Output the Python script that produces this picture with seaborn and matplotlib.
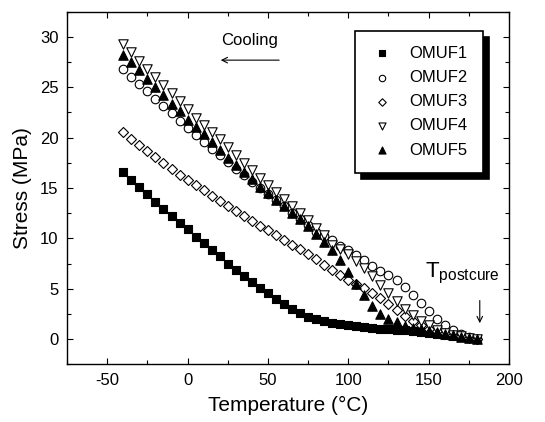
import numpy as np
import pandas as pd
import matplotlib
matplotlib.use('Agg')
import matplotlib.pyplot as plt
from matplotlib.ticker import MultipleLocator
import seaborn as sns

# Temperaturas de enfriamiento (°C)
temperatura = list(range(-40, 185, 5))

omuf1 = [16.6, 15.8, 15.1, 14.4, 13.6, 12.9, 12.2, 11.5, 10.9, 10.1,
         9.5, 8.8, 8.2, 7.5, 6.9, 6.3, 5.7, 5.1, 4.6, 4.0,
         3.5, 3.0, 2.6, 2.2, 1.95, 1.8, 1.6, 1.5, 1.4, 1.3,
         1.2, 1.1, 1.0, 1.0, 0.9, 0.85, 0.75, 0.7, 0.6, 0.5,
         0.4, 0.3, 0.2, 0.1, 0.0]
omuf2 = [26.8, 26.0, 25.3, 24.6, 23.8, 23.1, 22.4, 21.7, 21.0, 20.3,
         19.6, 18.9, 18.3, 17.6, 16.9, 16.3, 15.6, 15.0, 14.4, 13.8,
         13.2, 12.5, 11.9, 11.3, 10.6, 10.2, 9.8, 9.2, 8.8, 8.3,
         7.8, 7.3, 6.8, 6.4, 5.9, 5.2, 4.4, 3.6, 2.8, 2.0,
         1.4, 0.9, 0.5, 0.2, 0.0]
omuf3 = [20.6, 19.9, 19.3, 18.7, 18.1, 17.5, 16.9, 16.3, 15.8, 15.3,
         14.8, 14.2, 13.7, 13.2, 12.7, 12.2, 11.7, 11.2, 10.8, 10.3,
         9.8, 9.3, 8.9, 8.4, 7.9, 7.4, 6.9, 6.4, 5.9, 5.5,
         5.1, 4.6, 4.1, 3.5, 2.9, 2.3, 1.8, 1.4, 1.0, 0.75,
         0.55, 0.4, 0.25, 0.1, 0.0]
omuf4 = [29.3, 28.5, 27.6, 26.8, 26.0, 25.2, 24.4, 23.6, 22.8, 22.0,
         21.3, 20.6, 19.9, 19.1, 18.3, 17.5, 16.8, 16.0, 15.3, 14.6,
         13.9, 13.2, 12.5, 11.8, 11.0, 10.3, 9.3, 8.9, 8.4, 7.7,
         7.1, 6.3, 5.4, 4.6, 3.8, 3.0, 2.4, 1.8, 1.4, 0.9,
         0.6, 0.4, 0.25, 0.1, 0.0]
omuf5 = [28.2, 27.5, 26.7, 25.8, 25.0, 24.2, 23.3, 22.6, 21.8, 21.1,
         20.4, 19.6, 18.8, 18.0, 17.3, 16.6, 15.9, 15.1, 14.5, 13.8,
         13.2, 12.5, 11.9, 11.2, 10.4, 9.6, 8.8, 7.8, 6.7, 5.5,
         4.4, 3.3, 2.5, 2.0, 1.7, 1.3, 1.1, 0.95, 0.8, 0.65,
         0.5, 0.35, 0.2, 0.1, 0.0]

muestras = ['OMUF1', 'OMUF2', 'OMUF3', 'OMUF4', 'OMUF5']
series = [omuf1, omuf2, omuf3, omuf4, omuf5]

# Estilo de cada muestra: marcador, relleno, tamaño
marcadores = ['s', 'o', 'D', 'v', '^']
rellenos = ['black', 'white', 'white', 'white', 'black']
tamanos = [36, 38, 26, 46, 46]

sns.set_style('ticks')
plt.rcParams['font.family'] = ['Liberation Sans', 'DejaVu Sans']
plt.rcParams['axes.unicode_minus'] = False
for k in ['text.color', 'axes.labelcolor', 'xtick.color', 'ytick.color',
          'xtick.labelcolor', 'ytick.labelcolor']:
    plt.rcParams[k] = 'black'

fig = plt.figure(figsize=(5.45, 4.22), dpi=100)
ax = fig.add_axes([0.123, 0.137, 0.811, 0.835])

for nombre, valores, m, c, s in zip(muestras, series, marcadores, rellenos, tamanos):
    df = pd.DataFrame({'temp': temperatura, 'stress': valores})
    sns.scatterplot(data=df, x='temp', y='stress', marker=m, s=s,
                    color=c, edgecolor='black', linewidth=0.8,
                    label=nombre, ax=ax, zorder=3)

ax.set_xlim(-75, 200)
ax.set_ylim(-2.5, 32.5)
ax.xaxis.set_major_locator(MultipleLocator(50))
ax.xaxis.set_minor_locator(MultipleLocator(25))
ax.yaxis.set_major_locator(MultipleLocator(5))
ax.yaxis.set_minor_locator(MultipleLocator(2.5))
ax.tick_params(which='both', direction='in', top=True, right=True,
               color='black', width=0.8)
ax.tick_params(which='major', length=4, labelsize=12, pad=6)
ax.tick_params(which='minor', length=3)
for sp in ax.spines.values():
    sp.set_linewidth(1.0)
    sp.set_color('black')

ax.set_xlabel('Temperature (°C)', fontsize=15, labelpad=6)
ax.set_ylabel('Stress (MPa)', fontsize=15, labelpad=6)

# Anotaciones
ax.text(38.8, 29.7, 'Cooling', fontsize=12, ha='center', va='center')
ax.annotate('', xy=(18.9, 27.7), xytext=(58.7, 27.7),
            arrowprops=dict(arrowstyle='->', color='black', lw=0.8))
ax.text(147.6, 6.1, r'$\mathregular{T_{postcure}}$', fontsize=16,
        ha='left', va='baseline')
ax.annotate('', xy=(181.8, 1.3), xytext=(181.8, 4.1),
            arrowprops=dict(arrowstyle='->', color='black', lw=0.8))

leg = ax.legend(loc='upper right', bbox_to_anchor=(0.941, 0.946),
                borderaxespad=0, fontsize=12, frameon=True, fancybox=False,
                borderpad=0.9, handlelength=1.5, handletextpad=0.9,
                labelspacing=0.55, markerscale=0.75,
                shadow={'color': 'black', 'alpha': 1, 'ox': 4.5, 'oy': -4.5})
leg.get_frame().set_edgecolor('black')
leg.get_frame().set_linewidth(1.2)
leg.get_frame().set_alpha(1)

plt.savefig('out.png', dpi=100)
